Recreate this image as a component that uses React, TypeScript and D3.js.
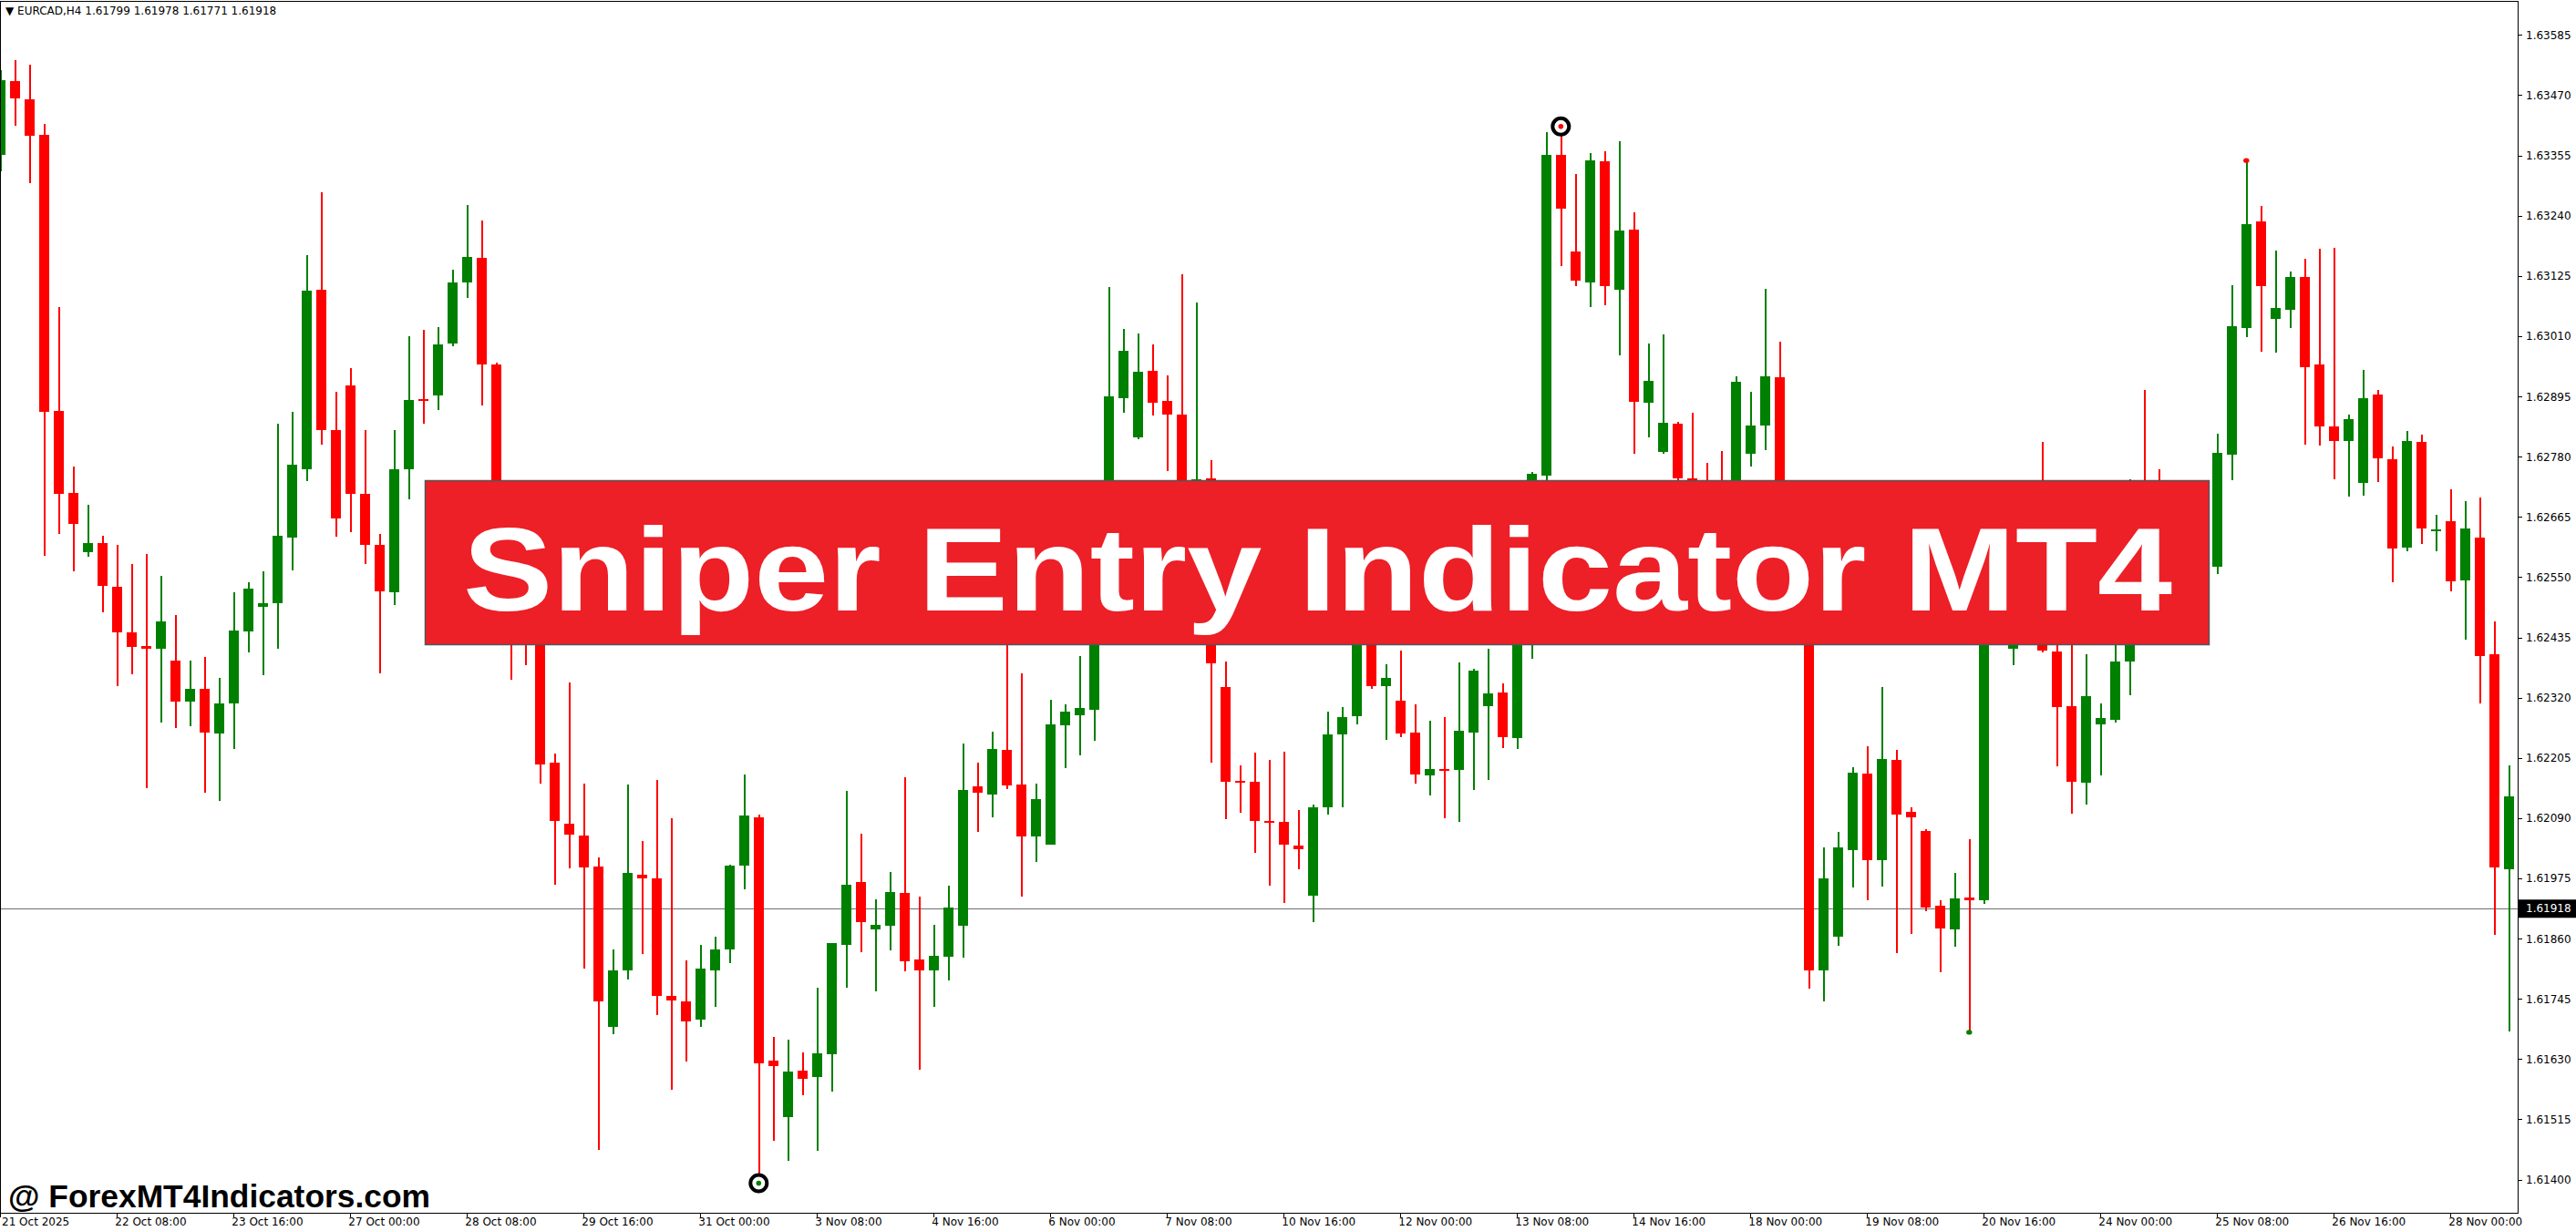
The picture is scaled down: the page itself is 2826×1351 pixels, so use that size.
import * as d3 from "d3";

const W = 2826;
const H = 1351;
const plotRight = 2762;
const plotBottom = 1331;

// EURCAD H4 bars, 21 Oct 2025 00:00 -> 28 Nov 2025 16:00
const opens = [
  1.63356, 1.63498, 1.63463, 1.63395, 1.62868, 1.62711, 1.62599, 1.62616, 1.62532, 1.62445,
  1.62419, 1.62415, 1.62392, 1.62314, 1.62338, 1.62253, 1.62309, 1.62447, 1.62495, 1.62501,
  1.62627, 1.62757, 1.63099, 1.62832, 1.62917, 1.62709, 1.62612, 1.62522, 1.62757, 1.6289,
  1.62898, 1.62996, 1.63114, 1.6316, 1.62957, 1.62678, 1.62522, 1.62435, 1.62196, 1.62081,
  1.62058, 1.61998, 1.61692, 1.618, 1.61983, 1.61975, 1.61751, 1.61741, 1.61707, 1.61801,
  1.61841, 1.62001, 1.62092, 1.61628, 1.61521, 1.61609, 1.61597, 1.61641, 1.61849, 1.61969,
  1.61879, 1.61886, 1.61948, 1.61821, 1.618, 1.61827, 1.61885, 1.62152, 1.62136, 1.62221,
  1.62155, 1.62055, 1.62041, 1.62268, 1.62288, 1.62298, 1.62539, 1.62893, 1.62818, 1.62945,
  1.62887, 1.62861, 1.62609, 1.6274, 1.62341, 1.62162, 1.6216, 1.62085, 1.62084, 1.62039,
  1.61942, 1.62111, 1.62251, 1.62285, 1.62452, 1.62342, 1.62315, 1.62255, 1.62173, 1.62185,
  1.62182, 1.62255, 1.62305, 1.6233, 1.62243, 1.62522, 1.62745, 1.63357, 1.63173, 1.63113,
  1.63345, 1.63099, 1.63215, 1.62883, 1.62789, 1.62844, 1.62739, 1.62609, 1.62609, 1.62583,
  1.62786, 1.6284, 1.62933, 1.62678, 1.62609, 1.61801, 1.61864, 1.6203, 1.62176, 1.6201,
  1.62202, 1.62103, 1.62067, 1.61924, 1.61879, 1.61939, 1.61934, 1.62592, 1.62415, 1.62574,
  1.62644, 1.62409, 1.62305, 1.62159, 1.6227, 1.62278, 1.62389, 1.62609, 1.62539, 1.62487,
  1.62557, 1.62609, 1.6257, 1.62785, 1.63027, 1.6323, 1.63044, 1.63061, 1.63124, 1.62957,
  1.62838, 1.6281, 1.62731, 1.62899, 1.62776, 1.62608, 1.62809, 1.6264, 1.62657, 1.62544,
  1.62626, 1.62403, 1.61994,
];
const highs = [
  1.63518, 1.63537, 1.63529, 1.63416, 1.63067, 1.62762, 1.62689, 1.6263, 1.62612, 1.62576,
  1.62595, 1.62553, 1.62479, 1.62392, 1.62398, 1.62359, 1.62522, 1.62541, 1.62562, 1.62844,
  1.62867, 1.63166, 1.63285, 1.62904, 1.6295, 1.62832, 1.62633, 1.62832, 1.63011, 1.63023,
  1.63028, 1.63137, 1.63261, 1.63231, 1.6296, 1.62687, 1.62557, 1.62452, 1.62215, 1.6235,
  1.62156, 1.62016, 1.6184, 1.62155, 1.62047, 1.62163, 1.62091, 1.61819, 1.61849, 1.61865,
  1.62002, 1.62174, 1.62098, 1.61673, 1.61668, 1.61644, 1.61767, 1.61852, 1.62143, 1.62061,
  1.61936, 1.61988, 1.62169, 1.61941, 1.61888, 1.61962, 1.62233, 1.62197, 1.62256, 1.62522,
  1.62367, 1.62157, 1.62317, 1.62308, 1.624, 1.62557, 1.63105, 1.63025, 1.63016, 1.62995,
  1.62936, 1.63129, 1.63075, 1.62775, 1.6239, 1.62191, 1.62216, 1.62202, 1.62218, 1.62107,
  1.62117, 1.62294, 1.62303, 1.62505, 1.62487, 1.62384, 1.6241, 1.62308, 1.62277, 1.62283,
  1.62388, 1.62376, 1.62414, 1.62348, 1.62574, 1.62752, 1.634, 1.63411, 1.6332, 1.6336,
  1.63363, 1.63383, 1.63247, 1.62997, 1.63015, 1.62848, 1.62864, 1.62769, 1.62792, 1.62934,
  1.62905, 1.63101, 1.63, 1.62713, 1.62626, 1.62035, 1.62064, 1.62188, 1.62228, 1.62341,
  1.62221, 1.62112, 1.6207, 1.61934, 1.61986, 1.62051, 1.62609, 1.62644, 1.62609, 1.62678,
  1.62809, 1.62426, 1.62435, 1.62404, 1.6231, 1.62421, 1.62737, 1.62908, 1.62757, 1.62592,
  1.62644, 1.62678, 1.62825, 1.63108, 1.63346, 1.6326, 1.63175, 1.63134, 1.63159, 1.63177,
  1.6318, 1.62861, 1.62947, 1.62908, 1.628, 1.6283, 1.62823, 1.62669, 1.62718, 1.62696,
  1.62702, 1.62466, 1.62191,
];
const lows = [
  1.63325, 1.63412, 1.63303, 1.62591, 1.62634, 1.62562, 1.62589, 1.62483, 1.62342, 1.62366,
  1.62148, 1.62274, 1.62262, 1.62267, 1.6214, 1.62123, 1.62222, 1.62408, 1.62364, 1.62415,
  1.62564, 1.62735, 1.62804, 1.62628, 1.62637, 1.62576, 1.62368, 1.62497, 1.627, 1.62843,
  1.6287, 1.62992, 1.63083, 1.62878, 1.62652, 1.62355, 1.62383, 1.62156, 1.61963, 1.61995,
  1.61804, 1.61458, 1.61678, 1.61782, 1.61832, 1.61715, 1.61573, 1.61626, 1.61693, 1.61731,
  1.61814, 1.61955, 1.61394, 1.61475, 1.61437, 1.61562, 1.61455, 1.61569, 1.61768, 1.61835,
  1.61761, 1.61839, 1.61799, 1.6161, 1.61731, 1.61781, 1.61824, 1.62064, 1.62092, 1.62147,
  1.61941, 1.62008, 1.62041, 1.62186, 1.6221, 1.62238, 1.62522, 1.62865, 1.62815, 1.6286,
  1.62753, 1.62574, 1.62592, 1.62197, 1.62089, 1.62101, 1.62024, 1.61962, 1.61929, 1.61994,
  1.61893, 1.62097, 1.62111, 1.62269, 1.62337, 1.62241, 1.62245, 1.62156, 1.62135, 1.62091,
  1.62083, 1.62145, 1.62163, 1.62224, 1.62222, 1.62395, 1.62733, 1.63144, 1.63106, 1.63066,
  1.63069, 1.62975, 1.62787, 1.62817, 1.62786, 1.62678, 1.62539, 1.62505, 1.62539, 1.62557,
  1.62762, 1.62793, 1.62644, 1.62539, 1.61766, 1.61741, 1.61848, 1.61959, 1.61934, 1.61961,
  1.61834, 1.61869, 1.61914, 1.61796, 1.61846, 1.61682, 1.61928, 1.62435, 1.62383, 1.62539,
  1.62407, 1.6219, 1.62099, 1.62117, 1.62173, 1.62274, 1.62326, 1.62505, 1.62452, 1.62452,
  1.62522, 1.62539, 1.62557, 1.62736, 1.63009, 1.62982, 1.62979, 1.63026, 1.62803, 1.62802,
  1.62738, 1.62704, 1.62707, 1.62732, 1.62541, 1.626, 1.62615, 1.626, 1.62523, 1.62432,
  1.62309, 1.61868, 1.61683,
];
const closes = [
  1.635, 1.63464, 1.63393, 1.62867, 1.62709, 1.62652, 1.62616, 1.62535, 1.62446, 1.62417,
  1.62415, 1.62466, 1.62314, 1.62338, 1.62255, 1.6231, 1.62449, 1.62529, 1.62501, 1.6263,
  1.62766, 1.63098, 1.62832, 1.62663, 1.62709, 1.62613, 1.62524, 1.62757, 1.62889, 1.62887,
  1.62995, 1.63114, 1.63162, 1.62956, 1.62678, 1.62522, 1.62435, 1.62194, 1.62086, 1.62059,
  1.61996, 1.61741, 1.618, 1.61986, 1.61976, 1.61751, 1.61742, 1.61702, 1.61804, 1.6184,
  1.62, 1.62096, 1.61623, 1.61618, 1.61607, 1.61594, 1.61642, 1.61852, 1.61964, 1.61893,
  1.61887, 1.6195, 1.61818, 1.61801, 1.61828, 1.6192, 1.62145, 1.6214, 1.62223, 1.62153,
  1.62055, 1.62127, 1.62269, 1.62295, 1.62301, 1.62539, 1.62896, 1.62983, 1.62943, 1.62883,
  1.62862, 1.62609, 1.62738, 1.62387, 1.62161, 1.62158, 1.62085, 1.62083, 1.62041, 1.62032,
  1.62112, 1.6225, 1.62283, 1.62452, 1.62342, 1.62359, 1.62253, 1.62175, 1.62184, 1.62183,
  1.62258, 1.62372, 1.62329, 1.62246, 1.62522, 1.62748, 1.63357, 1.63255, 1.63116, 1.63347,
  1.63106, 1.63212, 1.62885, 1.62925, 1.62846, 1.62739, 1.62609, 1.62574, 1.62583, 1.62924,
  1.6284, 1.62934, 1.62678, 1.62609, 1.61801, 1.61976, 1.62035, 1.62178, 1.6201, 1.62204,
  1.62098, 1.62093, 1.6192, 1.61881, 1.61937, 1.61934, 1.62592, 1.62452, 1.62574, 1.62644,
  1.6241, 1.62302, 1.62161, 1.62323, 1.62282, 1.6239, 1.62609, 1.62539, 1.62487, 1.62557,
  1.62609, 1.62574, 1.62788, 1.6303, 1.63225, 1.63107, 1.63064, 1.63124, 1.62952, 1.62838,
  1.62811, 1.62852, 1.62892, 1.62777, 1.62606, 1.6281, 1.62643, 1.62642, 1.62542, 1.62644,
  1.624, 1.61996, 1.62133,
];

// one label every 8 bars
const timeLabels = [
  "21 Oct 2025", "22 Oct 08:00", "23 Oct 16:00", "27 Oct 00:00", "28 Oct 08:00",
  "29 Oct 16:00", "31 Oct 00:00", "3 Nov 08:00", "4 Nov 16:00", "6 Nov 00:00",
  "7 Nov 08:00", "10 Nov 16:00", "12 Nov 00:00", "13 Nov 08:00", "14 Nov 16:00",
  "18 Nov 00:00", "19 Nov 08:00", "20 Nov 16:00", "24 Nov 00:00", "25 Nov 08:00",
  "26 Nov 16:00", "28 Nov 00:00",
];
const priceTicks = [
  1.63585, 1.6347, 1.63355, 1.6324, 1.63125, 1.6301, 1.62895, 1.6278, 1.62665, 1.6255,
  1.62435, 1.6232, 1.62205, 1.6209, 1.61975, 1.6186, 1.61745, 1.6163, 1.61515, 1.614,
];
const lastPrice = 1.61918;
const headerValues = [1.61799, 1.61978, 1.61771, 1.61918];

// indicator signals (bar index)
const buyRings = [52];
const sellRings = [107];
const buyDots = [135];
const sellDots = [154];

const GREEN = "#008000";
const RED = "#ff0000";
const AXIS_FONT = "'DejaVu Sans', sans-serif";

export default function App() {
  const n = opens.length;
  const x = d3.scaleLinear().domain([0, n - 1]).range([0.3, 0.3 + 16 * (n - 1)]);
  const y = d3.scaleLinear().domain([1.614, 1.63585]).range([1295.1, 38.8]);

  const bars = d3.range(n).map((i) => {
    const up = closes[i] >= opens[i];
    const cx = Math.round(x(i));
    const top = y(Math.max(opens[i], closes[i]));
    const bot = y(Math.min(opens[i], closes[i]));
    return { i, up, cx, top, h: Math.max(2, bot - top), hi: y(highs[i]), lo: y(lows[i]) };
  });

  const lastY = y(lastPrice);

  return (
    <svg
      width={W}
      height={H}
      style={{ position: "fixed", left: 0, top: 0, background: "#fff", display: "block" }}
    >
      <rect x={0} y={0} width={W} height={H} fill="#fff" />

      {/* current price line */}
      <line x1={0} x2={plotRight} y1={lastY} y2={lastY} stroke="#6e6e6e" strokeWidth={1} shapeRendering="crispEdges" />

      {/* candles */}
      <g shapeRendering="crispEdges">
        {bars.map((b) => (
          <g key={b.i} fill={b.up ? GREEN : RED} stroke="none">
            <rect x={b.cx} y={b.hi} width={1.5} height={b.lo - b.hi} />
            <rect x={b.cx - 5} y={b.top} width={11} height={b.h} />
          </g>
        ))}
      </g>

      {/* signals */}
      {buyRings.map((i) => (
        <g key={"br" + i}>
          <circle cx={x(i)} cy={y(lows[i])} r={9} fill="#fff" stroke="#000" strokeWidth={4} />
          <circle cx={x(i)} cy={y(lows[i])} r={2.8} fill={GREEN} />
        </g>
      ))}
      {sellRings.map((i) => (
        <g key={"sr" + i}>
          <circle cx={x(i)} cy={y(highs[i])} r={9} fill="#fff" stroke="#000" strokeWidth={4} />
          <circle cx={x(i)} cy={y(highs[i])} r={2.8} fill={RED} />
        </g>
      ))}
      {buyDots.map((i) => (
        <ellipse key={"bd" + i} cx={x(i)} cy={y(lows[i])} rx={3.2} ry={2.6} fill={GREEN} />
      ))}
      {sellDots.map((i) => (
        <ellipse key={"sd" + i} cx={x(i)} cy={y(highs[i])} rx={3.2} ry={2.6} fill={RED} />
      ))}

      {/* title banner */}
      <rect x={466.5} y={527.5} width={1957} height={180} fill="#ed1f27" stroke="#555" strokeWidth={1.5} />
      <text
        x={508}
        y={669.5}
        fill="#fff"
        fontFamily="'Liberation Sans', Arial, sans-serif"
        fontWeight={700}
        fontSize={130}
        textLength={1875}
        lengthAdjust="spacingAndGlyphs"
      >
        Sniper Entry Indicator MT4
      </text>

      {/* frame */}
      <rect x={0.5} y={1.5} width={plotRight} height={plotBottom - 1} fill="none" stroke="#000" strokeWidth={1} shapeRendering="crispEdges" />

      {/* price axis */}
      <g fontFamily={AXIS_FONT} fontSize={12} fill="#000">
        {priceTicks.map((p) => (
          <g key={p}>
            <line x1={plotRight} x2={plotRight + 5} y1={y(p)} y2={y(p)} stroke="#000" shapeRendering="crispEdges" />
            <text x={plotRight + 9} y={y(p)} dominantBaseline="central">
              {d3.format(".5f")(p)}
            </text>
          </g>
        ))}
      </g>
      <rect x={plotRight + 1} y={lastY - 10} width={W - plotRight} height={20} fill="#000" />
      <text x={plotRight + 9} y={lastY} dominantBaseline="central" fontFamily={AXIS_FONT} fontSize={12} fill="#fff">
        {d3.format(".5f")(lastPrice)}
      </text>

      {/* time axis */}
      <g fontFamily={AXIS_FONT} fontSize={12} fill="#000">
        {timeLabels.map((t, k) => (
          <g key={t}>
            <line x1={x(k * 8)} x2={x(k * 8)} y1={plotBottom} y2={plotBottom + 5} stroke="#000" shapeRendering="crispEdges" />
            <text x={Math.max(2, x(k * 8) - 2)} y={1345}>
              {t}
            </text>
          </g>
        ))}
      </g>

      {/* header */}
      <text x={6} y={16} fontFamily={AXIS_FONT} fontSize={12} fill="#000">
        {"\u25BC EURCAD,H4  " + headerValues.map((v) => d3.format(".5f")(v)).join(" ")}
      </text>

      {/* watermark */}
      <text
        x={9}
        y={1325}
        fontFamily="'Liberation Sans', Arial, sans-serif"
        fontWeight={700}
        fontSize={35}
        textLength={463}
        lengthAdjust="spacingAndGlyphs"
        fill="#000"
      >
        @ ForexMT4Indicators.com
      </text>
    </svg>
  );
}
